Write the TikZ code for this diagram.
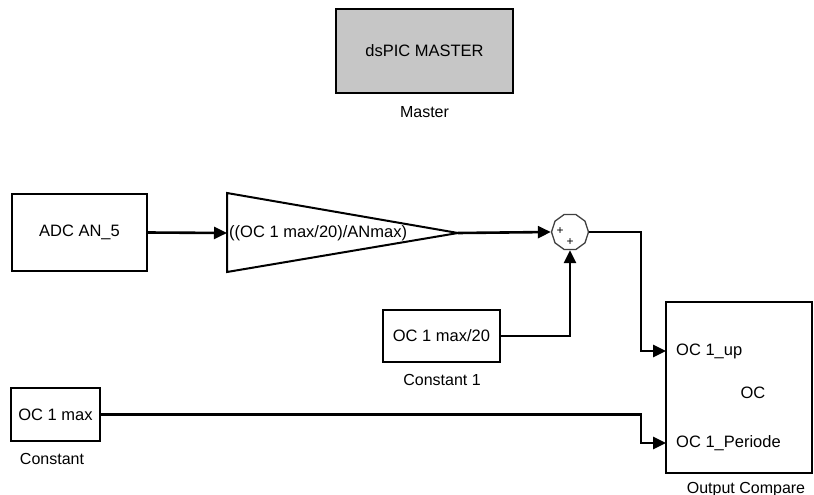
\documentclass[tikz,border=0pt]{standalone}
\usepackage{fontspec}
\setmainfont{Liberation Sans}
\usetikzlibrary{arrows.meta,shapes.geometric}
\tikzset{
  blk/.style={draw=black,line width=2.2pt,fill=white,inner sep=0pt},
  txt/.style={inner sep=0pt,font=\fontsize{16.5}{19}\selectfont},
  lbl/.style={inner sep=0pt,font=\fontsize{16}{19}\selectfont},
  wire/.style={line width=2.6pt,-{Triangle[length=13pt,width=12pt]}},
}
\begin{document}
\begin{tikzpicture}[x=1pt,y=-1pt]
\useasboundingbox (0,0) rectangle (814,495);
% Master block
\draw[blk,fill={rgb,255:red,198;green,198;blue,198}] (336,9) rectangle (513,93);
\node[txt] (mastertxt) at (424.5,51) {dsPIC MASTER};
\node[lbl] (masterlbl) at (424.5,112) {Master};
% ADC block
\node[blk,minimum width=135pt,minimum height=77pt] (adc) at (79.5,232.5) {};
\node[txt] at (adc.center) {ADC AN\_5};
% Gain triangle
\draw[line width=2pt,line join=miter] (227,193) coordinate (gtl) -- (458,233) coordinate (gtip) -- (227,272) -- cycle;
\coordinate (gin) at (227,233);
\node[txt,anchor=west] (gaintxt) at (229,233) {((OC 1 max/20)/ANmax)};
% Sum
\node[draw=black!75,line width=1.3pt,regular polygon,regular polygon sides=10,minimum size=37pt,inner sep=0pt] (sum) at (570,232) {};
\node[inner sep=0pt,font=\fontsize{12}{12}\selectfont] at (560,231) {+};
\node[inner sep=0pt,font=\fontsize{12}{12}\selectfont] at (570,242) {+};
% Constant 1
\node[blk,minimum width=117pt,minimum height=52pt] (c1) at (441.5,336) {};
\node[txt] at (c1.center) {OC 1 max/20};
\node[lbl] at (442,380) {Constant 1};
% Constant
\node[blk,minimum width=89pt,minimum height=53pt] (c0) at (55.5,414.5) {};
\node[txt] at (c0.center) {OC 1 max};
\node[lbl] at (52,459) {Constant};
% Output compare
\node[blk,minimum width=146pt,minimum height=171pt] (oc) at (739,387.5) {};
\coordinate (ocup) at (666,351);
\coordinate (ocper) at (666,443);
\node[txt,anchor=west] at (676,351) {OC 1\_up};
\node[txt] at (753,393) {OC};
\node[txt,anchor=west] at (676,443) {OC 1\_Periode};
\node[lbl,anchor=base] at (746,493) {Output Compare};
% wires
\draw[wire] (adc.east) -- (gin);
\draw[wire] (gtip) -- (sum.west);
\draw[wire] (c1.east) -| (sum.south);
\draw[wire] (sum.east) -- (641,232) -- (641,351) -- (ocup);
\draw[wire] (c0.east) -- (641,414.5) -- (641,443) -- (ocper);
\end{tikzpicture}
\end{document}
